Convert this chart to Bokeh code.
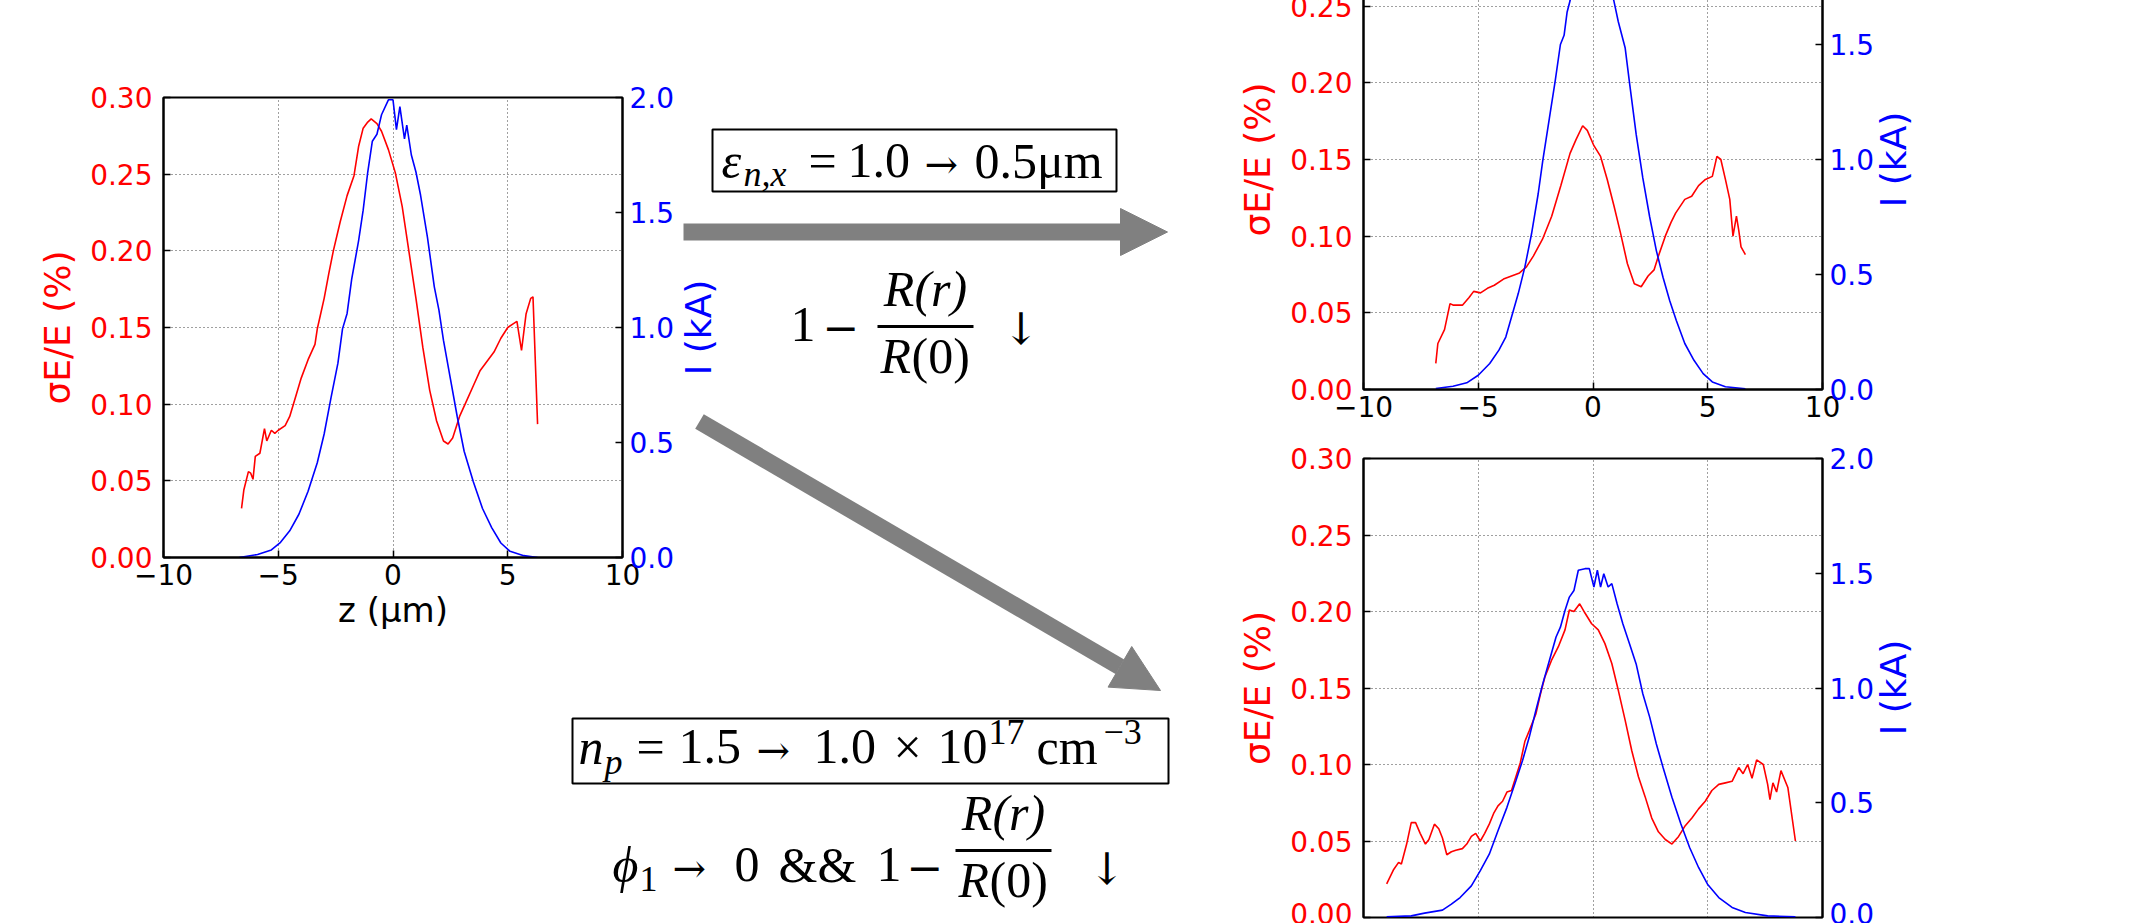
import math
from bokeh.plotting import figure
from bokeh.models import (Range1d, LinearAxis, FixedTicker, Arrow, NormalHead, Label,
                          BoxAnnotation, PrintfTickFormatter)
from bokeh.layouts import row, column
from bokeh.embed import file_html
from bokeh.resources import INLINE

# ---------------- data ----------------
x_ticks = [-10, -5, 0, 5, 10]
dE_ticks = [0.0, 0.05, 0.10, 0.15, 0.20, 0.25, 0.30]
I_ticks = [0.0, 0.5, 1.0, 1.5, 2.0]

# left panel (reference case)
left_z_red = [-6.6, -6.5, -6.3, -6.2, -6.1, -6.0, -5.8, -5.6, -5.5, -5.3, -5.15, -5.0, -4.7, -4.5, -4.2, -4.0,
              -3.7, -3.4, -3.3, -3.0, -2.8, -2.6, -2.3, -2.0, -1.7, -1.5, -1.3, -1.1, -0.95, -0.7, -0.5, -0.2,
              0.1, 0.4, 0.7, 1.0, 1.3, 1.6, 1.9, 2.2, 2.4, 2.6, 2.9, 3.2, 3.5, 3.8, 4.1, 4.4, 4.7, 5.0, 5.2,
              5.4, 5.6, 5.8, 6.0, 6.1, 6.3]
left_dE = [0.032, 0.044, 0.056, 0.055, 0.051, 0.066, 0.068, 0.084, 0.076, 0.083, 0.081, 0.083, 0.086, 0.092,
           0.107, 0.117, 0.129, 0.139, 0.149, 0.169, 0.185, 0.200, 0.219, 0.236, 0.249, 0.268, 0.280, 0.284,
           0.286, 0.283, 0.278, 0.266, 0.251, 0.229, 0.199, 0.169, 0.137, 0.109, 0.089, 0.076, 0.074, 0.078,
           0.092, 0.102, 0.112, 0.122, 0.128, 0.134, 0.143, 0.150, 0.152, 0.154, 0.135, 0.159, 0.169, 0.170,
           0.087]
left_z_I = [-6.7, -5.9, -5.3, -4.9, -4.5, -4.1, -3.7, -3.3, -3.0, -2.7, -2.4, -2.2, -2.0, -1.8, -1.5, -1.3,
            -1.1, -0.9, -0.7, -0.5, -0.2, 0.0, 0.15, 0.3, 0.5, 0.6, 0.8, 1.0, 1.2, 1.5, 1.8, 2.0, 2.2, 2.5,
            2.8, 3.1, 3.5, 3.9, 4.3, 4.7, 5.1, 5.7, 6.3]
left_I = [0.0, 0.013, 0.033, 0.066, 0.116, 0.188, 0.288, 0.412, 0.537, 0.695, 0.845, 0.994, 1.061, 1.210,
          1.377, 1.51, 1.676, 1.81, 1.84, 1.925, 1.99, 1.99, 1.86, 1.96, 1.82, 1.88, 1.75, 1.676, 1.576,
          1.393, 1.177, 1.077, 0.944, 0.778, 0.612, 0.462, 0.329, 0.213, 0.130, 0.063, 0.027, 0.008, 0.0]

# top-right panel (emittance 1.0 -> 0.5 um)
tr_z_red = [-6.85, -6.76, -6.47, -6.23, -6.08, -5.69, -5.4, -5.2, -4.9, -4.6, -4.3, -3.9, -3.55, -3.2, -2.9,
            -2.6, -2.2, -1.8, -1.4, -1.0, -0.74, -0.45, -0.25, 0.04, 0.33, 0.62, 0.91, 1.2, 1.5, 1.8, 2.1,
            2.4, 2.66, 2.85, 3.15, 3.4, 3.6, 4.0, 4.3, 4.6, 4.9, 5.2, 5.4, 5.57, 5.77, 5.96, 6.1, 6.25,
            6.35, 6.45, 6.64]
tr_dE = [0.017, 0.030, 0.039, 0.056, 0.055, 0.055, 0.060, 0.064, 0.063, 0.066, 0.068, 0.072, 0.074, 0.076,
         0.080, 0.087, 0.098, 0.113, 0.133, 0.154, 0.163, 0.172, 0.169, 0.159, 0.152, 0.137, 0.120, 0.102,
         0.082, 0.069, 0.067, 0.074, 0.078, 0.087, 0.100, 0.109, 0.115, 0.124, 0.126, 0.133, 0.137, 0.139,
         0.152, 0.150, 0.137, 0.124, 0.100, 0.113, 0.104, 0.093, 0.088]
tr_z_I = [-6.85, -6.1, -5.5, -5.0, -4.5, -4.1, -3.8, -3.55, -3.26, -2.97, -2.68, -2.39, -2.19, -1.9, -1.65,
          -1.42, -1.26, -1.13, -1.0, -0.8, -0.5, -0.2, 0.0, 0.3, 0.6, 0.91, 1.1, 1.4, 1.6, 1.88, 2.17, 2.47,
          2.76, 3.05, 3.34, 3.63, 4.0, 4.4, 4.8, 5.2, 5.77, 6.64]
tr_I = [0.004, 0.014, 0.029, 0.062, 0.113, 0.171, 0.228, 0.315, 0.416, 0.532, 0.676, 0.85, 0.994, 1.18, 1.34,
        1.50, 1.54, 1.64, 1.69, 1.80, 1.88, 1.92, 1.90, 1.90, 1.80, 1.69, 1.60, 1.486, 1.327, 1.11, 0.92,
        0.75, 0.604, 0.488, 0.387, 0.30, 0.20, 0.127, 0.069, 0.033, 0.012, 0.003]

# bottom-right panel (density 1.5 -> 1.0 x 10^17 cm^-3)
br_z_red = [-8.99, -8.70, -8.47, -8.35, -8.12, -7.92, -7.73, -7.53, -7.30, -7.15, -6.91, -6.72, -6.56, -6.37,
            -6.17, -5.98, -5.69, -5.50, -5.30, -5.11, -4.91, -4.72, -4.52, -4.33, -4.14, -3.94, -3.75, -3.55,
            -3.36, -3.17, -2.97, -2.78, -2.49, -2.29, -2.10, -1.81, -1.51, -1.22, -1.03, -0.83, -0.58, -0.35,
            -0.06, 0.23, 0.52, 0.82, 1.11, 1.40, 1.69, 1.98, 2.27, 2.56, 2.85, 3.15, 3.44, 3.73, 4.02, 4.31,
            4.60, 4.89, 5.18, 5.48, 5.77, 6.06, 6.35, 6.54, 6.74, 6.93, 7.13, 7.42, 7.61, 7.71, 7.84, 8.0,
            8.19, 8.49, 8.82]
br_dE = [0.022, 0.031, 0.036, 0.035, 0.048, 0.062, 0.062, 0.055, 0.048, 0.051, 0.061, 0.058, 0.052, 0.041,
         0.043, 0.044, 0.045, 0.048, 0.053, 0.055, 0.050, 0.055, 0.061, 0.068, 0.073, 0.076, 0.082, 0.083,
         0.092, 0.101, 0.115, 0.122, 0.133, 0.146, 0.157, 0.168, 0.177, 0.188, 0.201, 0.200, 0.205, 0.199,
         0.192, 0.188, 0.179, 0.166, 0.148, 0.129, 0.109, 0.092, 0.079, 0.065, 0.056, 0.051, 0.048, 0.053,
         0.060, 0.065, 0.071, 0.076, 0.083, 0.087, 0.088, 0.089, 0.098, 0.094, 0.100, 0.091, 0.103, 0.100,
         0.087, 0.077, 0.088, 0.082, 0.096, 0.085, 0.050]
br_z_I = [-8.99, -7.92, -7.34, -6.56, -6.17, -5.79, -5.30, -4.91, -4.52, -4.14, -3.75, -3.36, -3.07, -2.78,
          -2.49, -2.19, -1.90, -1.61, -1.42, -1.22, -1.03, -0.83, -0.64, -0.35, -0.16, 0.04, 0.19, 0.33, 0.47,
          0.66, 0.82, 1.05, 1.30, 1.59, 1.88, 2.17, 2.47, 2.76, 3.05, 3.44, 3.83, 4.21, 4.60, 4.99, 5.48,
          6.06, 6.64, 7.61, 8.82]
br_I = [0.003, 0.007, 0.019, 0.032, 0.058, 0.087, 0.138, 0.204, 0.276, 0.378, 0.480, 0.596, 0.684, 0.785,
        0.902, 1.018, 1.12, 1.222, 1.265, 1.338, 1.396, 1.425, 1.513, 1.520, 1.520, 1.44, 1.513, 1.44, 1.498,
        1.44, 1.455, 1.367, 1.28, 1.193, 1.105, 0.975, 0.873, 0.756, 0.655, 0.524, 0.407, 0.305, 0.218,
        0.145, 0.087, 0.044, 0.022, 0.007, 0.003]

# ---------------- styling ----------------
RED = "#ff0000"
BLUE = "#0000ff"
GREY = "#808080"
SANS = "DejaVu Sans"
SERIF = "Liberation Serif"
SYMFONT = "DejaVu Serif"
TICK_FS = "28px"
XLABEL_FS = "34px"
YLABEL_FS = "36px"


def style_axis(ax, color, label, label_standoff, major_standoff, label_fs):
    ax.axis_line_color = "black"
    ax.axis_line_width = 2
    ax.major_tick_line_color = "black"
    ax.major_tick_line_width = 1.5
    ax.major_tick_in = 7
    ax.major_tick_out = 0
    ax.minor_tick_line_color = None
    ax.major_label_text_font = SANS
    ax.major_label_text_font_size = TICK_FS
    ax.major_label_text_color = color
    ax.major_label_standoff = major_standoff
    ax.axis_label = label
    ax.axis_label_text_font = SANS
    ax.axis_label_text_font_size = label_fs
    ax.axis_label_text_font_style = "normal"
    ax.axis_label_text_color = color
    ax.axis_label_standoff = label_standoff


def panel(width, height, borders, z_red, dE, z_I, cur, xlabel, show_xaxis, margin=None):
    l, r, t, b = borders
    kw = {}
    if margin is not None:
        kw["margin"] = margin
    p = figure(width=width, height=height, output_backend="svg", toolbar_location=None,
               x_range=Range1d(-10, 10), y_range=Range1d(0, 0.30),
               min_border_left=l, min_border_right=r, min_border_top=t, min_border_bottom=b,
               background_fill_color="white", border_fill_color=None,
               outline_line_color="black", outline_line_width=2, **kw)
    p.extra_y_ranges = {"I": Range1d(0, 2.0)}

    xa = p.xaxis[0]
    xa.ticker = FixedTicker(ticks=x_ticks)
    xa.major_label_overrides = {-10: "\u221210", -5: "\u22125"}
    style_axis(xa, "black", xlabel, 2, 6, XLABEL_FS)
    if not show_xaxis:
        xa.visible = False

    ya = p.yaxis[0]
    ya.ticker = FixedTicker(ticks=dE_ticks)
    ya.formatter = PrintfTickFormatter(format="%.2f")
    style_axis(ya, RED, "\u03c3E/E (%)", 9, 11, YLABEL_FS)

    ra = LinearAxis(y_range_name="I", ticker=FixedTicker(ticks=I_ticks),
                    formatter=PrintfTickFormatter(format="%.1f"))
    style_axis(ra, BLUE, None, 0, 7, YLABEL_FS)
    p.add_layout(ra, "right")

    for g in (p.xgrid[0], p.ygrid[0]):
        g.grid_line_color = "black"
        g.grid_line_alpha = 0.75
        g.grid_line_dash = "1 3"
        g.grid_line_width = 1
    p.xgrid[0].ticker = FixedTicker(ticks=x_ticks)
    p.ygrid[0].ticker = FixedTicker(ticks=dE_ticks)

    p.line(z_red, dE, line_color=RED, line_width=1.6)
    p.line(z_I, cur, line_color=BLUE, line_width=1.6, y_range_name="I")
    return p


left = panel(720, 923, (163, 98, 97, 366), left_z_red, left_dE, left_z_I, left_I, "z (\u03bcm)", True)
top_right = panel(700, 503, (143, 98, 0, 43), tr_z_red, tr_dE, tr_z_I, tr_I, None, True,
                  margin=(-71, 0, 0, 0))
bot_right = panel(700, 491, (143, 98, 26, 6), br_z_red, br_dE, br_z_I, br_I, None, False)

# ---------------- transparent overlay: arrows, formulas, right-axis titles (page pixels) ----------------
OV_X0, OV_X1 = 570, 1960
ov = figure(width=OV_X1 - OV_X0, height=923, output_backend="svg", toolbar_location=None,
            x_range=Range1d(OV_X0, OV_X1), y_range=Range1d(923, 0),
            x_axis_type=None, y_axis_type=None, min_border=0,
            min_border_left=0, min_border_right=0, min_border_top=0, min_border_bottom=0,
            outline_line_color=None, background_fill_color=None, border_fill_color=None)

head1 = NormalHead(size=47, fill_color=GREY, line_color=GREY, line_width=1)
ov.add_layout(Arrow(end=head1, x_start=683, y_start=231.5, x_end=1167, y_end=231.5,
                    line_color=GREY, line_width=17))
head2 = NormalHead(size=47, fill_color=GREY, line_color=GREY, line_width=1)
ov.add_layout(Arrow(end=head2, x_start=699, y_start=421, x_end=1160, y_end=690,
                    line_color=GREY, line_width=17))


def lab(x, base, text, size=50, style="normal", align="left", font=SERIF):
    # base = alphabetic baseline in page pixels; placed through the middle of the em box
    ov.add_layout(Label(x=x, y=base - 0.34 * size, text=text, text_font=font,
                        text_font_size=f"{size}px", text_font_style=style, text_align=align,
                        text_baseline="middle", text_color="black"))


def hbar(x0, x1, yc, thick=3):
    ov.add_layout(BoxAnnotation(left=x0, right=x1, top=yc - thick / 2, bottom=yc + thick / 2,
                                fill_color="black", fill_alpha=1, line_color=None))


def frame_box(x0, x1, y0, y1):
    ov.add_layout(BoxAnnotation(left=x0, right=x1, top=y0, bottom=y1, fill_color=None,
                                fill_alpha=0, line_color="black", line_alpha=1, line_width=2))


def axis_title(x, y, text):
    ov.add_layout(Label(x=x, y=y, text=text, angle=math.pi / 2, text_align="center",
                        text_baseline="middle", text_font=SANS, text_font_size=YLABEL_FS,
                        text_color=BLUE))


# right-axis titles I (kA), reading bottom-to-top
axis_title(698, 327, "I (kA)")
axis_title(1893, 159, "I (kA)")
axis_title(1893, 687, "I (kA)")

# top box: eps_{n,x} = 1.0 -> 0.5 um
frame_box(712, 1116, 129, 191)
lab(721, 177, "\u03b5", 50, "italic")
lab(743, 186, "n,x", 36, "italic")
lab(808, 177, "=")
lab(847, 177, "1.0")
lab(924, 177, "\u2192", 40, font=SYMFONT)
lab(974, 177, "0.5\u03bcm")

# 1 - R(r)/R(0) (down arrow)
lab(790, 341, "1")
lab(822, 341, "\u2212", 44, font=SYMFONT)
lab(925, 305, "R(r)", 50, "italic", "center")
hbar(877, 973, 326)
lab(880, 372, "R", 50, "italic")
lab(911, 372, "(0)")
lab(1002, 343, "\u2193", 44, font=SYMFONT)

# bottom box: n_p = 1.5 -> 1.0 x 10^17 cm^-3
frame_box(572, 1168, 718, 783)
lab(578, 763, "n", 50, "italic")
lab(604, 774, "p", 36, "italic")
lab(636, 763, "=")
lab(678, 763, "1.5")
lab(756, 763, "\u2192", 40, font=SYMFONT)
lab(813, 763, "1.0")
lab(893, 763, "\u00d7")
lab(937, 763, "10")
lab(988, 744, "17", 36)
lab(1036, 763, "cm")
lab(1103, 744, "\u22123", 36)

# phi_1 -> 0 && 1 - R(r)/R(0) (down arrow)
lab(612, 881, "\u03d5", 50, "italic")
lab(639, 891, "1", 36)
lab(672, 881, "\u2192", 40, font=SYMFONT)
lab(734, 881, "0")
lab(778, 881, "&&")
lab(876, 881, "1")
lab(906, 881, "\u2212", 44, font=SYMFONT)
lab(1003, 829, "R(r)", 50, "italic", "center")
hbar(955, 1051, 850)
lab(958, 896, "R", 50, "italic")
lab(989, 896, "(0)")
lab(1088, 883, "\u2193", 44, font=SYMFONT)

right_col = column(top_right, bot_right, margin=(0, 0, 0, 500))
ov_box = column(ov, margin=(0, 0, 0, -1350))
layout = row(left, right_col, ov_box)

with open("out.html", "w") as f:
    f.write(file_html(layout, INLINE))
